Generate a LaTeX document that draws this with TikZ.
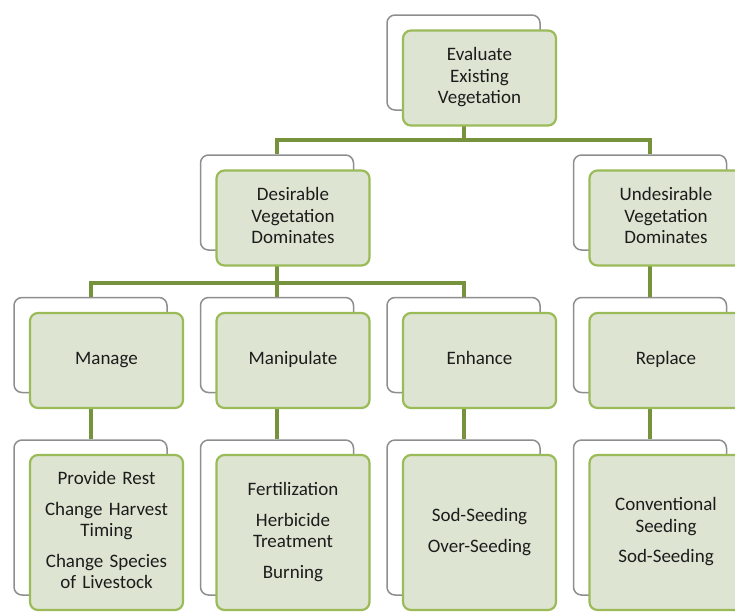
\documentclass[tikz,border=0pt]{standalone}
\usepackage{fontspec}
\setmainfont{Carlito}
\usepackage{tikz}
\usetikzlibrary{backgrounds}

\definecolor{boxfill}{HTML}{DDE5D2}
\definecolor{boxline}{HTML}{9BBB59}
\definecolor{linkcol}{HTML}{76923C}
\definecolor{backline}{HTML}{8E8E8E}
\definecolor{textcol}{HTML}{1C1C1C}

\begin{document}
\begin{tikzpicture}[x=1pt, y=-1pt]
        \tikzset{BackStyle/.style = {draw = backline, line width = 1.5pt, fill = white,
                rounded corners = 8pt, minimum width = 153pt, minimum height = 95pt},
                FrontStyle/.style = {draw = boxline, line width = 2.2pt, fill = boxfill,
                rounded corners = 8pt, minimum width = 153pt, minimum height = 95pt,
                text width = 145pt, align = center, text = textcol,
                font = \fontsize{19}{21.5}\selectfont,
                execute at begin node = \strut, execute at end node = \strut},
                Tall/.style = {minimum height = 155pt},
                LinkStyle/.style = {draw = linkcol, line width = 4pt}}
        \useasboundingbox (0,0) rectangle (735,611);
        % back boxes
        \node[BackStyle] (evalb) at (463.5,62.5) {};
        \node[BackStyle] (desb) at (277,202.5) {};
        \node[BackStyle] (undb) at (650,202.5) {};
        \node[BackStyle] (manb) at (90.5,345) {};
        \node[BackStyle] (manipb) at (277,345) {};
        \node[BackStyle] (enhb) at (463.5,345) {};
        \node[BackStyle] (repb) at (650,345) {};
        \node[BackStyle, Tall] (restb) at (90.5,517.5) {};
        \node[BackStyle, Tall] (fertb) at (277,517.5) {};
        \node[BackStyle, Tall] (sodb) at (463.5,517.5) {};
        \node[BackStyle, Tall] (convb) at (650,517.5) {};
        % front boxes
        \node[FrontStyle] (eval) at ([shift={(16,15.5)}]evalb) {Evaluate\\Existing\\Vegetation};
        \node[FrontStyle] (des) at ([shift={(16,15.5)}]desb) {Desirable\\Vegetation\\Dominates};
        \node[FrontStyle] (und) at ([shift={(16,15.5)}]undb) {Undesirable\\Vegetation\\Dominates};
        \node[FrontStyle] (man) at ([shift={(16,15.5)}]manb) {Manage};
        \node[FrontStyle] (manip) at ([shift={(16,15.5)}]manipb) {Manipulate};
        \node[FrontStyle] (enh) at ([shift={(16,15.5)}]enhb) {Enhance};
        \node[FrontStyle] (rep) at ([shift={(16,15.5)}]repb) {Replace};
        \node[FrontStyle, Tall] (rest) at ([shift={(16,15)}]restb)
            {Provide Rest\\[9pt]Change Harvest\\Timing\\[9pt]Change Species\\of Livestock};
        \node[FrontStyle, Tall] (fert) at ([shift={(16,15)}]fertb)
            {Fertilization\\[9pt]Herbicide\\Treatment\\[9pt]Burning};
        \node[FrontStyle, Tall] (sod) at ([shift={(16,15)}]sodb)
            {Sod-Seeding\\[9pt]Over-Seeding};
        \node[FrontStyle, Tall] (conv) at ([shift={(16,15)}]convb)
            {Conventional\\Seeding\\[9pt]Sod-Seeding};
        % connectors
        \begin{scope}[on background layer]
            \draw[LinkStyle] (evalb) -- ++(0,77.5) -| (desb);
            \draw[LinkStyle] (evalb) -- ++(0,77.5) -| (undb);
            \draw[LinkStyle] (desb) -- ++(0,80.5) -| (manb);
            \draw[LinkStyle] (desb) -- (manipb);
            \draw[LinkStyle] (desb) -- ++(0,80.5) -| (enhb);
            \draw[LinkStyle] (undb) -- (repb);
            \draw[LinkStyle] (manb) -- (restb);
            \draw[LinkStyle] (manipb) -- (fertb);
            \draw[LinkStyle] (enhb) -- (sodb);
            \draw[LinkStyle] (repb) -- (convb);
        \end{scope}
    \end{tikzpicture}
\end{document}
